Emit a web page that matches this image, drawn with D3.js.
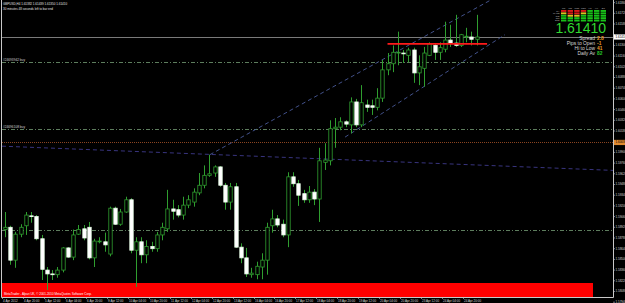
<!DOCTYPE html>
<html>
<head>
<meta charset="utf-8">
<script src="https://cdn.jsdelivr.net/npm/d3@7"></script>
<style>
  body { margin: 0; background: #000; }
  svg { display: block; }
</style>
</head>
<body>
<div id="chart"></div>
<script>
// GBPUSD H4 bars, 4 Apr 2012 04:00 onwards
const opens = [1.5889, 1.5892, 1.5849, 1.5883, 1.5894, 1.5907, 1.5906, 1.5877, 1.5836, 1.5831,
  1.5830, 1.5836, 1.5865, 1.5853, 1.5883, 1.5890, 1.5892, 1.5852, 1.5873, 1.5873,
  1.5857, 1.5917, 1.5896, 1.5912, 1.5928, 1.5862, 1.5873, 1.5856, 1.5867, 1.5864,
  1.5882, 1.5890, 1.5916, 1.5915, 1.5908, 1.5921, 1.5925, 1.5937, 1.5947, 1.5960,
  1.5963, 1.5971, 1.5947, 1.5925, 1.5945, 1.5866, 1.5852, 1.5830, 1.5830, 1.5840,
  1.5849, 1.5894, 1.5903, 1.5896, 1.5882, 1.5958, 1.5949, 1.5936, 1.5928, 1.5938,
  1.5929, 1.5977, 1.5979, 1.6021, 1.6023, 1.6030, 1.6026, 1.6056, 1.6026, 1.6052,
  1.6051, 1.6049, 1.6061, 1.6098, 1.6106, 1.6120, 1.6120, 1.6117, 1.6124, 1.6094,
  1.6100, 1.6117, 1.6130, 1.6121, 1.6125, 1.6137, 1.6133, 1.6130, 1.6141, 1.6141,
  1.6138];
const highs = [1.5912, 1.5894, 1.5886, 1.5896, 1.5912, 1.5912, 1.5908, 1.5882, 1.5840, 1.5836,
  1.5840, 1.5866, 1.5866, 1.5889, 1.5895, 1.5895, 1.5899, 1.5877, 1.5879, 1.5885,
  1.5919, 1.5919, 1.5916, 1.5932, 1.5930, 1.5879, 1.5879, 1.5875, 1.5873, 1.5886,
  1.5898, 1.5941, 1.5928, 1.5921, 1.5932, 1.5934, 1.5943, 1.5963, 1.5973, 1.5987,
  1.5973, 1.5972, 1.5950, 1.5950, 1.5950, 1.5871, 1.5865, 1.5839, 1.5847, 1.5858,
  1.5898, 1.5915, 1.5908, 1.5902, 1.5964, 1.5964, 1.5954, 1.5941, 1.5946, 1.5942,
  1.5996, 1.6002, 1.6032, 1.6035, 1.6036, 1.6032, 1.6062, 1.6060, 1.6078, 1.6059,
  1.6059, 1.6074, 1.6111, 1.6120, 1.6130, 1.6148, 1.6124, 1.6127, 1.6127, 1.6117,
  1.6128, 1.6134, 1.6133, 1.6134, 1.6161, 1.6157, 1.6170, 1.6145, 1.6153, 1.6148,
  1.6170];
const lows = [1.5879, 1.5843, 1.5839, 1.5879, 1.5882, 1.5898, 1.5875, 1.5823, 1.5810, 1.5823,
  1.5826, 1.5833, 1.5852, 1.5849, 1.5882, 1.5875, 1.5850, 1.5840, 1.5871, 1.5860,
  1.5854, 1.5895, 1.5894, 1.5911, 1.5858, 1.5814, 1.5845, 1.5845, 1.5860, 1.5860,
  1.5875, 1.5886, 1.5902, 1.5905, 1.5902, 1.5917, 1.5919, 1.5934, 1.5943, 1.5958,
  1.5958, 1.5945, 1.5915, 1.5915, 1.5865, 1.5845, 1.5827, 1.5826, 1.5824, 1.5824,
  1.5830, 1.5885, 1.5892, 1.5879, 1.5866, 1.5945, 1.5920, 1.5924, 1.5924, 1.5921,
  1.5899, 1.5967, 1.5973, 1.5996, 1.6019, 1.6023, 1.6015, 1.6023, 1.6023, 1.6043,
  1.6039, 1.6045, 1.6056, 1.6091, 1.6095, 1.6104, 1.6107, 1.6108, 1.6081, 1.6078,
  1.6076, 1.6116, 1.6111, 1.6111, 1.6121, 1.6128, 1.6128, 1.6128, 1.6134, 1.6130,
  1.6130];
const closes = [1.5892, 1.5849, 1.5883, 1.5892, 1.5908, 1.5906, 1.5877, 1.5837, 1.5831, 1.5830,
  1.5836, 1.5865, 1.5853, 1.5882, 1.5889, 1.5878, 1.5852, 1.5874, 1.5874, 1.5869,
  1.5917, 1.5896, 1.5912, 1.5928, 1.5862, 1.5873, 1.5856, 1.5867, 1.5864, 1.5882,
  1.5892, 1.5916, 1.5913, 1.5908, 1.5921, 1.5928, 1.5938, 1.5947, 1.5960, 1.5962,
  1.5971, 1.5947, 1.5925, 1.5945, 1.5866, 1.5852, 1.5831, 1.5832, 1.5841, 1.5849,
  1.5892, 1.5903, 1.5895, 1.5882, 1.5958, 1.5949, 1.5934, 1.5928, 1.5938, 1.5929,
  1.5979, 1.5980, 1.6021, 1.6023, 1.6030, 1.6027, 1.6056, 1.6026, 1.6055, 1.6049,
  1.6049, 1.6061, 1.6098, 1.6106, 1.6121, 1.6121, 1.6119, 1.6124, 1.6094, 1.6102,
  1.6120, 1.6132, 1.6121, 1.6127, 1.6137, 1.6133, 1.6130, 1.6144, 1.6142, 1.6138,
  1.6141];

// time axis: one label every 4 bars
const timeLabels = ["4 Apr 2012", "4 Apr 20:00", "5 Apr 12:00", "6 Apr 04:00", "6 Apr 20:00",
  "9 Apr 12:00", "10 Apr 04:00", "10 Apr 20:00", "11 Apr 12:00", "12 Apr 04:00", "12 Apr 20:00",
  "13 Apr 12:00", "16 Apr 04:00", "16 Apr 20:00", "17 Apr 12:00", "18 Apr 04:00", "18 Apr 20:00",
  "19 Apr 12:00", "20 Apr 04:00", "20 Apr 20:00", "23 Apr 12:00", "24 Apr 04:00", "24 Apr 20:00"];

// price axis labels
const priceTicks = [1.6186, 1.6172, 1.6158, 1.6144, 1.6130, 1.6116, 1.6102, 1.6088, 1.6074, 1.6060,
  1.6046, 1.6032, 1.6018, 1.6004, 1.5990, 1.5976, 1.5962, 1.5948, 1.5934, 1.5920, 1.5906, 1.5892,
  1.5878, 1.5864, 1.5850, 1.5836, 1.5822, 1.5808, 1.5794];

// levels and objects on the chart
const bidPrice = 1.61410;
const orderLevels = [1.6108, 1.6021, 1.5889];
const orderLabels = ["#24693942 buy", "#24696108 buy", ""];
const openLevel = 1.6003;
const redLevel = [73, 92, 1.6132];           // [from bar, to bar, price]
const trendLine = [[0, 1.5998], [114, 1.5967]];
const channelUpper = [[39.1, 1.5987], [92.6, 1.6189]];
const channelLower = [[64.9, 1.6010], [95.4, 1.6144]];

// top right panel
const panelCols = ["M1", "M5", "M15", "M30", "H1", "H4", "D1"];
const panelRows = ["MA", "MACD", "RSI", "CCI", "STO"];
const panelState = [  // one string per column, r = red, y = yellow, g = green
  "ryggg", "rrygg", "rrygg", "ryggg", "ggggg", "ggggg", "ggggg"];
const infoLabels = ["Spread", "Pips to Open", "Hi to Low", "Daily Av"];
const infoValues = ["2.8", "-1", "41", "82"];

// Setup
const svgWidth = 625;
const svgHeight = 303;
const plotLeft = 2, plotRight = 613, plotBottom = 297;
const font = "'Liberation Sans', Arial, sans-serif";
const green = "#2f9e2f";

const svg = d3.select("#chart")
    .append("svg")
    .attr("width", svgWidth)
    .attr("height", svgHeight)
    .style("background", "#000");

const x = d3.scaleLinear().domain([0, 90]).range([5, 476.6]);
const y = d3.scaleLinear().domain([1.58021, 1.61894]).range([296, 0]);

svg.append("defs").append("clipPath").attr("id", "plot")
  .append("rect").attr("x", plotLeft).attr("y", 0)
  .attr("width", plotRight - plotLeft).attr("height", plotBottom);

const g = svg.append("g").attr("clip-path", "url(#plot)");

// red rectangle object at the bottom
g.append("rect")
    .attr("x", plotLeft).attr("y", 283)
    .attr("width", 591).attr("height", 14)
    .attr("fill", "#ff0000");
g.append("text")
    .attr("x", 4).attr("y", 294.5)
    .attr("font-family", font).attr("font-size", 3)
    .attr("fill", "#ffffff")
    .text("MetaTrader - Alpari UK, \u00a9 2001-2010 MetaQuotes Software Corp.");

// horizontal levels
g.selectAll(".order")
  .data(orderLevels)
  .enter().append("line")
    .attr("class", "order")
    .attr("x1", plotLeft).attr("x2", plotRight)
    .attr("y1", d => Math.round(y(d)) + 0.5).attr("y2", d => Math.round(y(d)) + 0.5)
    .attr("stroke", "#5d7d5d").attr("stroke-width", 1)
    .attr("stroke-dasharray", "4,2,1,2");

g.selectAll(".orderLabel")
  .data(orderLevels)
  .enter().append("text")
    .attr("x", 3).attr("y", (d, i) => Math.round(y(d)) - 1)
    .attr("font-family", font).attr("font-size", 3.2)
    .attr("fill", "#d0d0d0")
    .text((d, i) => orderLabels[i]);

g.append("line")
    .attr("x1", plotLeft).attr("x2", plotRight)
    .attr("y1", Math.round(y(openLevel)) + 0.5).attr("y2", Math.round(y(openLevel)) + 0.5)
    .attr("stroke", "#8a4420").attr("stroke-dasharray", "1,1");

g.append("line")
    .attr("x1", plotLeft).attr("x2", plotRight)
    .attr("y1", Math.round(y(bidPrice)) + 0.5).attr("y2", Math.round(y(bidPrice)) + 0.5)
    .attr("stroke", "#7a7a7a");

// sloped lines: trend line runs across the plot, channel lines stop at their anchors
function lineAt(p, x0, x1) {
  const slope = (p[1][1] - p[0][1]) / (p[1][0] - p[0][0]);
  const i0 = x.invert(x0), i1 = x.invert(x1);
  return [[x0, y(p[0][1] + (i0 - p[0][0]) * slope)], [x1, y(p[0][1] + (i1 - p[0][0]) * slope)]];
}
const slopeLines = [
  { pts: lineAt(trendLine, plotLeft, plotRight), color: "#3e3a8c" },
  { pts: lineAt(channelUpper, x(channelUpper[0][0]), x(channelUpper[1][0])), color: "#4a5a9a" },
  { pts: lineAt(channelLower, x(channelLower[0][0]), x(channelLower[1][0])), color: "#4a5a9a" }
];
g.selectAll(".slope")
  .data(slopeLines)
  .enter().append("line")
    .attr("x1", d => d.pts[0][0]).attr("y1", d => d.pts[0][1])
    .attr("x2", d => d.pts[1][0]).attr("y2", d => d.pts[1][1])
    .attr("stroke", d => d.color).attr("stroke-width", 0.9)
    .attr("stroke-dasharray", "4,3");

// candles
const bars = opens.map((o, i) => ({ i, o, h: highs[i], l: lows[i], c: closes[i] }));
const bodyW = 3.4;

const candle = g.selectAll(".candle")
  .data(bars)
  .enter().append("g")
    .attr("class", "candle");

candle.append("line")
    .attr("x1", d => Math.round(x(d.i)) + 0.5).attr("x2", d => Math.round(x(d.i)) + 0.5)
    .attr("y1", d => y(d.h)).attr("y2", d => y(d.l))
    .attr("stroke", green).attr("stroke-width", 1);

candle.append("rect")
    .attr("x", d => Math.round(x(d.i)) + 0.5 - bodyW / 2)
    .attr("y", d => y(Math.max(d.o, d.c)))
    .attr("width", bodyW)
    .attr("height", d => Math.max(0.8, Math.abs(y(d.o) - y(d.c))))
    .attr("fill", d => d.c >= d.o ? "#000" : "#ffffff")
    .attr("stroke", d => d.c >= d.o ? green : "#e8ffe8")
    .attr("stroke-width", 0.8);

// red horizontal segment
g.append("line")
    .attr("x1", x(redLevel[0])).attr("x2", x(redLevel[1]))
    .attr("y1", y(redLevel[2])).attr("y2", y(redLevel[2]))
    .attr("stroke", "#ff1a1a").attr("stroke-width", 1.6);

// frame
svg.append("path")
    .attr("d", `M${plotLeft - 0.5},0V${plotBottom + 0.5}H${plotRight + 0.5}V0`)
    .attr("fill", "none").attr("stroke", "#c8c8c8").attr("stroke-width", 1);

// time axis
const tAxis = svg.append("g");
timeLabels.forEach((t, k) => {
  const tx = Math.round(x(k * 4)) - 3 + 0.5;
  tAxis.append("line")
      .attr("x1", tx).attr("x2", tx).attr("y1", plotBottom).attr("y2", plotBottom + 2)
      .attr("stroke", "#c8c8c8").attr("stroke-width", 0.6);
  tAxis.append("text")
      .attr("x", tx + 0.6).attr("y", 302)
      .attr("font-family", font).attr("font-size", 3)
      .attr("fill", "#d8d8d8")
      .text(t);
});

// price axis; labels hidden where a price box sits on top of them
const pAxis = svg.append("g");
const boxed = [bidPrice, openLevel];
priceTicks.forEach(v => {
  const ty = y(v);
  pAxis.append("line")
      .attr("x1", plotRight).attr("x2", plotRight + 2)
      .attr("y1", ty).attr("y2", ty)
      .attr("stroke", "#c8c8c8").attr("stroke-width", 0.6);
  if (boxed.some(b => Math.abs(y(b) - ty) < 4.5)) return;
  pAxis.append("text")
      .attr("x", plotRight + 2.5).attr("y", ty + 1)
      .attr("font-family", font).attr("font-size", 3)
      .attr("fill", "#d8d8d8")
      .text(v.toFixed(5));
});

function priceBox(price, bg, fg) {
  const by = y(price);
  pAxis.append("rect")
      .attr("x", plotRight + 1).attr("y", by - 2.6)
      .attr("width", 12).attr("height", 5.2)
      .attr("fill", bg);
  pAxis.append("text")
      .attr("x", plotRight + 2.5).attr("y", by + 1)
      .attr("font-family", font).attr("font-size", 3)
      .attr("fill", fg)
      .text(price.toFixed(5));
}
priceBox(bidPrice, "#ffffff", "#000000");
priceBox(openLevel, "#e08a30", "#000000");

// title lines
svg.append("text")
    .attr("x", 3).attr("y", 5)
    .attr("font-family", font).attr("font-size", 3)
    .attr("fill", "#e0e0e0")
    .text("GBPUSD,H4  1.61382 1.61439 1.61350 1.61410");
svg.append("text")
    .attr("x", 3).attr("y", 10)
    .attr("font-family", font).attr("font-size", 3)
    .attr("fill", "#e0e0e0")
    .text("30 minutes 48 seconds left to bar end");

// signal grid
const panel = svg.append("g");
const cellColor = { r: "#d81818", y: "#e0c020", g: "#18c018" };
panelCols.forEach((c, ci) => {
  const cx = 561 + ci * 6.6;
  panel.append("text")
      .attr("x", cx + 2.6).attr("y", 8.5)
      .attr("text-anchor", "middle")
      .attr("font-family", font).attr("font-size", 2.4)
      .attr("fill", "#c0c0c0")
      .text(c);
  panelState[ci].split("").forEach((s, ri) => {
    panel.append("rect")
        .attr("x", cx).attr("y", 10 + ri * 2.4)
        .attr("width", 5.4).attr("height", 1.9)
        .attr("fill", cellColor[s]);
  });
});
panelRows.forEach((r, ri) => {
  panel.append("text")
      .attr("x", 559.5).attr("y", 11.8 + ri * 2.4)
      .attr("text-anchor", "end")
      .attr("font-family", font).attr("font-size", 2.2)
      .attr("fill", "#c0c0c0")
      .text(r);
});

panel.append("text")
    .attr("x", 606).attr("y", 33)
    .attr("text-anchor", "end")
    .attr("font-family", font).attr("font-size", 14)
    .attr("fill", "#30d830")
    .text(bidPrice.toFixed(5));

const valueColors = ["#e89a28", "#e89a28", "#e89a28", "#28c828"];
infoLabels.forEach((lab, i) => {
  panel.append("text")
      .attr("x", 595).attr("y", 39.5 + i * 5.2)
      .attr("text-anchor", "end")
      .attr("font-family", font).attr("font-size", 4.9)
      .attr("fill", "#d8d8d8")
      .text(lab);
  panel.append("text")
      .attr("x", 597).attr("y", 39.5 + i * 5.2)
      .attr("font-family", font).attr("font-size", 4.9)
      .attr("font-weight", "bold")
      .attr("fill", valueColors[i])
      .text(infoValues[i]);
});
</script>
</body>
</html>
